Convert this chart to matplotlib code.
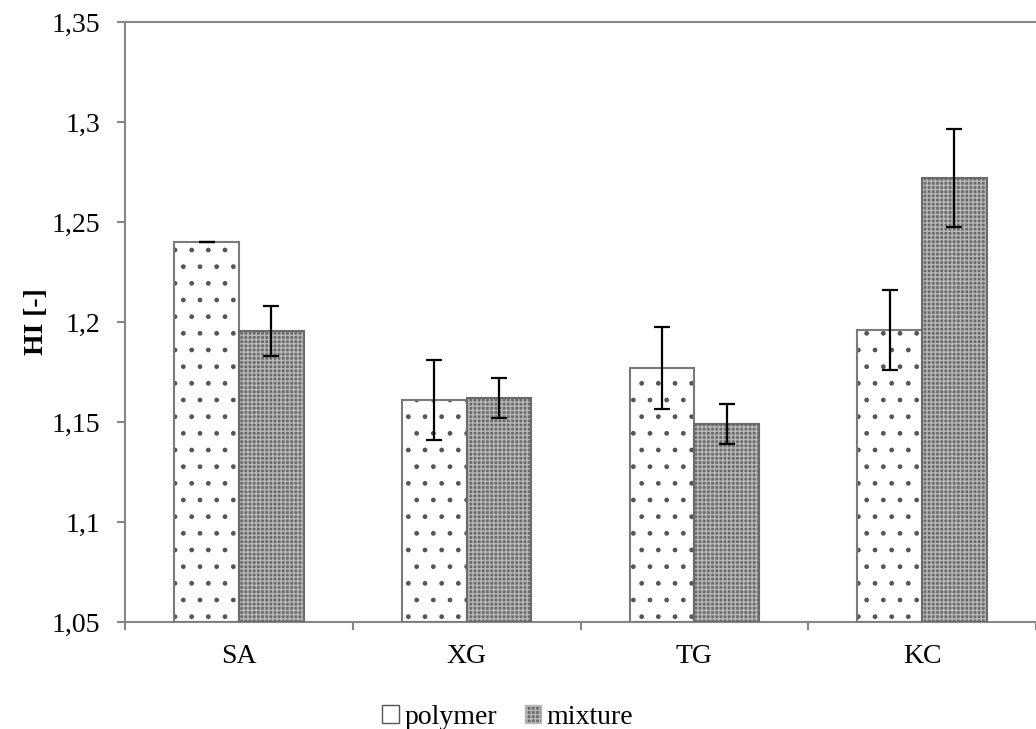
import numpy as np
import matplotlib.pyplot as plt
from matplotlib.patches import Patch

categories = ["SA", "XG", "TG", "KC"]
polymer = [1.240, 1.161, 1.177, 1.196]
polymer_err = [0.0, 0.020, 0.0205, 0.020]
mixture = [1.1955, 1.162, 1.149, 1.272]
mixture_err = [0.0125, 0.010, 0.010, 0.0245]
yticks = [1.05, 1.1, 1.15, 1.2, 1.25, 1.3, 1.35]
ytick_labels = ["1,05", "1,1", "1,15", "1,2", "1,25", "1,3", "1,35"]

plt.rcParams['font.family'] = ['Liberation Serif', 'DejaVu Serif']
plt.rcParams['hatch.linewidth'] = 1.0

fig = plt.figure(figsize=(10.36, 7.29), dpi=100)
ax = fig.add_axes([0.1207, 0.1468, 0.8793, 0.823])

x = np.arange(len(categories))
w = 0.284
base = 1.05
p_h = [v - base for v in polymer]
m_h = [v - base for v in mixture]

# polymer: white with dots
ax.bar(x - w / 2, p_h, w, bottom=base, color="white", edgecolor="#555555",
       hatch=".", linewidth=0, zorder=2)
ax.bar(x - w / 2, p_h, w, bottom=base, fill=False, edgecolor="#7a7a7a",
       linewidth=1.5, zorder=3)
# mixture: dark gray with fine light pattern
ax.bar(x + w / 2, m_h, w, bottom=base, color="#6a6a6a", edgecolor="#b8b8b8",
       hatch="++++", linewidth=0, zorder=2)
ax.bar(x + w / 2, m_h, w, bottom=base, fill=False, edgecolor="#6a6a6a",
       linewidth=1.5, zorder=3)

ax.errorbar(x - w / 2, polymer, yerr=polymer_err, fmt="none", ecolor="black",
            elinewidth=1.6, capsize=6, capthick=1.6, zorder=4)
ax.errorbar(x + w / 2, mixture, yerr=mixture_err, fmt="none", ecolor="black",
            elinewidth=1.6, capsize=6, capthick=1.6, zorder=4)

ax.set_xlim(-0.5, 3.5)
ax.set_ylim(1.05, 1.35)
ax.set_yticks(yticks)
ax.set_yticklabels(ytick_labels, fontsize=20)
ax.set_xticks(x)
ax.set_xticklabels(categories, fontsize=20)
ax.set_xticks(np.arange(-0.5, 4.0, 1.0), minor=True)
ax.tick_params(axis="x", which="major", length=0, pad=16)
ax.tick_params(axis="x", which="minor", length=6, color="#868686", width=1.5)
ax.tick_params(axis="y", length=6, color="#868686", width=1.5, pad=12)
ax.set_ylabel("HI [-]", fontsize=20, fontweight="bold", labelpad=2)

for side in ["left", "bottom", "top"]:
    ax.spines[side].set_color("#868686")
    ax.spines[side].set_linewidth(1.5)
ax.spines["right"].set_visible(False)

handles = [
    Patch(facecolor="white", edgecolor="#555555", label="polymer"),
    Patch(facecolor="#6a6a6a", edgecolor="#b8b8b8", hatch="++++", label="mixture"),
]
fig.legend(handles=handles, loc="lower center", bbox_to_anchor=(0.49, -0.035),
           ncol=2, frameon=False, fontsize=20, handlelength=0.6,
           handleheight=0.6, handletextpad=0.2, columnspacing=1.0)

fig.savefig("out.png", dpi=100)
